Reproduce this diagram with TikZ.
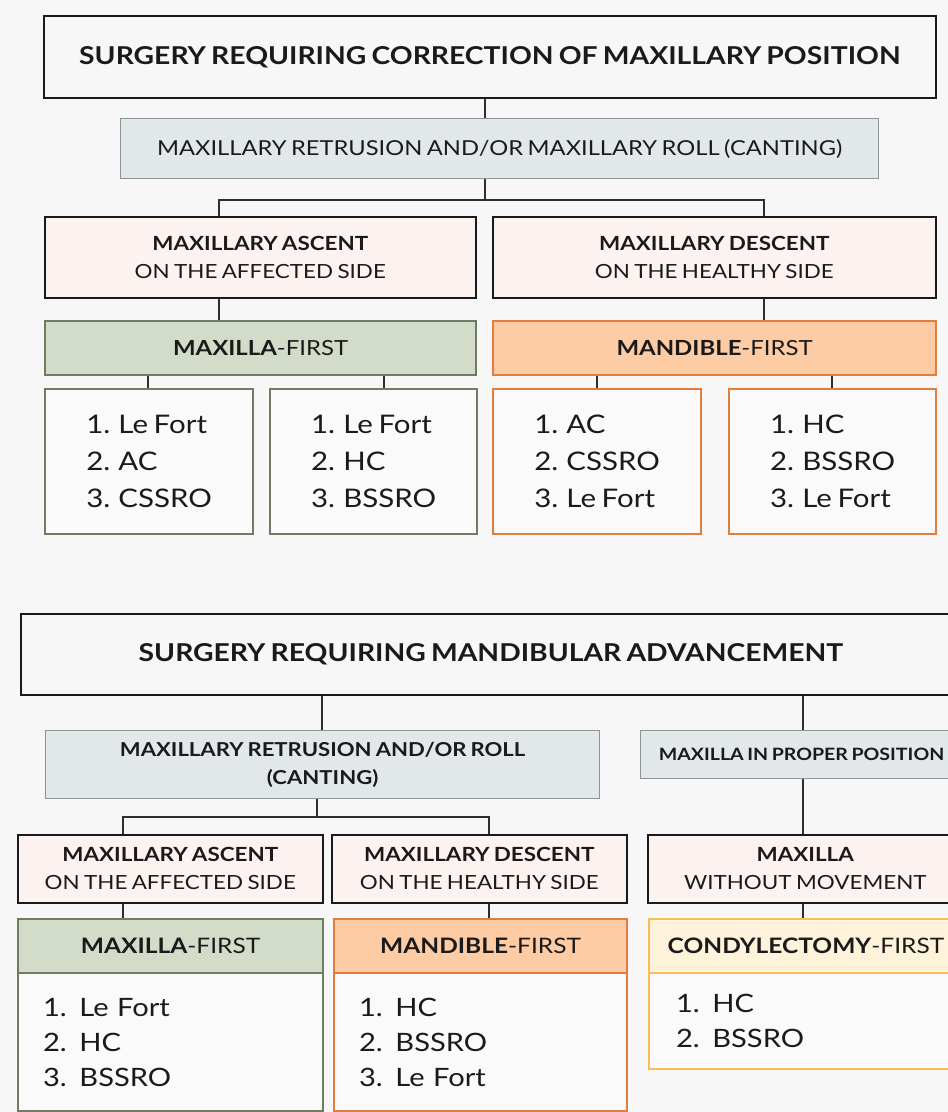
\documentclass[tikz,border=0pt]{standalone}
\usepackage{fontspec}
\setmainfont{Lato}[FakeStretch=1.15, WordSpace=0.75]
\usepackage{xcolor}
\usetikzlibrary{calc,positioning}

\definecolor{bgcol}{HTML}{F7F7F7}
\definecolor{inkcol}{HTML}{1A1A1A}
\definecolor{linecol}{HTML}{2E2E2E}
\definecolor{retfill}{HTML}{E2E8E9}
\definecolor{retdraw}{HTML}{8E9597}
\definecolor{pinkfill}{HTML}{FCF3F0}
\definecolor{greenfill}{HTML}{D3DCC8}
\definecolor{greendraw}{HTML}{6F7B63}
\definecolor{orangefill}{HTML}{FDCBA4}
\definecolor{orangedraw}{HTML}{E27D3E}
\definecolor{yellowfill}{HTML}{FFF2DA}
\definecolor{yellowdraw}{HTML}{F8BE55}
\definecolor{listfill}{HTML}{FAFAFA}

\tikzset{
  box/.style={draw, anchor=north west, inner sep=0pt, align=center, text=inkcol},
  titlebox/.style={box, fill=bgcol, draw=inkcol, line width=1.8pt,
                   font=\fontsize{24.6}{28}\selectfont\bfseries},
  retbox/.style={box, fill=retfill, draw=retdraw, line width=1.2pt},
  sidebox/.style={box, fill=pinkfill, draw=inkcol, line width=1.6pt,
                  font=\fontsize{19.5}{28}\selectfont},
  greenhead/.style={box, fill=greenfill, draw=greendraw, line width=2.2pt,
                    font=\fontsize{20.8}{24}\selectfont},
  orangehead/.style={box, fill=orangefill, draw=orangedraw, line width=2.2pt,
                     font=\fontsize{20.8}{24}\selectfont},
  yellowhead/.style={box, fill=yellowfill, draw=yellowdraw, line width=2pt,
                     font=\fontsize{21.3}{24}\selectfont},
  listbox/.style={box, fill=listfill, line width=2.2pt, align=left,
                  font=\fontsize{25.6}{37}\selectfont},
  link/.style={draw=linecol, line width=1.8pt},
}

\begin{document}
\begin{tikzpicture}[x=1pt, y=-1pt]

% ---------------------------------------------------------
% Canvas
% ---------------------------------------------------------
\useasboundingbox (0,0) rectangle (948,1112);
\clip (0,0) rectangle (948,1112);
\fill[bgcol] (0,0) rectangle (948,1112);

% ---------------------------------------------------------
% Junction points of the connectors
% ---------------------------------------------------------
\coordinate (j1)  at (485,200);     % below retrusion box (top)
\coordinate (j1L) at (219,200);     % left branch
\coordinate (j1R) at (764,200);     % right branch
\coordinate (k1)  at (148,0);       % maxilla-first, list 1
\coordinate (k2)  at (384,0);       % maxilla-first, list 2
\coordinate (k3)  at (597,0);       % mandible-first, list 1
\coordinate (k4)  at (832,0);       % mandible-first, list 2

\coordinate (j2)  at (317,817);     % below retrusion box (bottom)
\coordinate (j2L) at (123,817);     % left branch
\coordinate (j2R) at (489,817);     % right branch
\coordinate (m1)  at (322,0);       % title -> retrusion
\coordinate (m2)  at (803,0);       % title -> proper position

% ---------------------------------------------------------
% Top chart: correction of maxillary position
% ---------------------------------------------------------
\node[titlebox, minimum width=892pt, minimum height=82pt] (corr) at (43,15)
  {SURGERY REQUIRING CORRECTION OF MAXILLARY POSITION};

\node[retbox, minimum width=758pt, minimum height=60pt,
      font=\fontsize{20.6}{22}\selectfont] (retro) at (120,118)
  {MAXILLARY RETRUSION AND/OR MAXILLARY ROLL (CANTING)};

\node[sidebox, minimum width=431pt, minimum height=81pt] (asc) at (44,216)
  {\textbf{MAXILLARY ASCENT}\\ON THE AFFECTED SIDE};
\node[sidebox, minimum width=443pt, minimum height=81pt] (desc) at (492,216)
  {\textbf{MAXILLARY DESCENT}\\ON THE HEALTHY SIDE};

\node[greenhead, minimum width=431pt, minimum height=54pt] (maxfirst) at (44,320)
  {\textbf{MAXILLA}-FIRST};
\node[orangehead, minimum width=443pt, minimum height=54pt] (mandfirst) at (492,320)
  {\textbf{MANDIBLE}-FIRST};

\node[listbox, draw=greendraw, minimum width=208pt, minimum height=145pt] (lstA) at (44,388)
  {1. Le Fort\\2. AC\\3. CSSRO};
\node[listbox, draw=greendraw, minimum width=207pt, minimum height=145pt] (lstB) at (269,388)
  {1. Le Fort\\2. HC\\3. BSSRO};
\node[listbox, draw=orangedraw, minimum width=208pt, minimum height=145pt] (lstC) at (492,388)
  {1. AC\\2. CSSRO\\3. Le Fort};
\node[listbox, draw=orangedraw, minimum width=207pt, minimum height=145pt] (lstD) at (728,388)
  {1. HC\\2. BSSRO\\3. Le Fort};

% connectors
\draw[link] (corr.south -| j1) -- (retro.north -| j1);
\draw[link] (retro.south -| j1) -- (j1);
\draw[link] (asc.north -| j1L) -- (j1L) -- (j1R) -- (desc.north -| j1R);
\draw[link] (asc.south -| j1L) -- (maxfirst.north -| j1L);
\draw[link] (desc.south -| j1R) -- (mandfirst.north -| j1R);
\draw[link] (maxfirst.south -| k1) -- (lstA.north -| k1);
\draw[link] (maxfirst.south -| k2) -- (lstB.north -| k2);
\draw[link] (mandfirst.south -| k3) -- (lstC.north -| k3);
\draw[link] (mandfirst.south -| k4) -- (lstD.north -| k4);

% ---------------------------------------------------------
% Bottom chart: mandibular advancement
% ---------------------------------------------------------
\node[titlebox, minimum width=940pt, minimum height=81pt] (mand) at (20,613)
  {SURGERY REQUIRING MANDIBULAR ADVANCEMENT};

\node[retbox, minimum width=554pt, minimum height=68pt,
      font=\fontsize{19.2}{28}\selectfont\bfseries] (retro2) at (45,730)
  {MAXILLARY RETRUSION AND/OR ROLL\\(CANTING)};
\node[retbox, minimum width=322pt, minimum height=48pt,
      font=\fontsize{17}{20}\selectfont\bfseries] (proper) at (640,730)
  {MAXILLA IN PROPER POSITION};

\node[sidebox, minimum width=305pt, minimum height=68pt] (asc2) at (17,834)
  {\textbf{MAXILLARY ASCENT}\\ON THE AFFECTED SIDE};
\node[sidebox, minimum width=295pt, minimum height=68pt] (desc2) at (331,834)
  {\textbf{MAXILLARY DESCENT}\\ON THE HEALTHY SIDE};
\node[sidebox, minimum width=315pt, minimum height=68pt] (still) at (647,834)
  {\textbf{MAXILLA}\\WITHOUT MOVEMENT};

\node[listbox, draw=greendraw, text width=255pt, inner xsep=25pt,
      minimum height=138pt, font=\fontsize{25.3}{35}\selectfont] (lstE) at (17,972)
  {1. Le Fort\\2. HC\\3. BSSRO};
\node[listbox, draw=orangedraw, text width=243pt, inner xsep=25pt,
      minimum height=138pt, font=\fontsize{25.3}{35}\selectfont] (lstF) at (333,972)
  {1. HC\\2. BSSRO\\3. Le Fort};
\node[listbox, draw=yellowdraw, line width=2pt, text width=260pt, inner xsep=27pt,
      minimum height=96pt, font=\fontsize{25.3}{35}\selectfont] (lstG) at (648,972)
  {1. HC\\2. BSSRO};

\node[greenhead, minimum width=305pt, minimum height=54pt,
      font=\fontsize{21.3}{24}\selectfont] (maxfirst2) at (17,918)
  {\textbf{MAXILLA}-FIRST};
\node[orangehead, minimum width=293pt, minimum height=54pt,
      font=\fontsize{21.3}{24}\selectfont] (mandfirst2) at (333,918)
  {\textbf{MANDIBLE}-FIRST};
\node[yellowhead, minimum width=314pt, minimum height=54pt] (condfirst) at (648,918)
  {\textbf{CONDYLECTOMY}-FIRST};

% connectors
\draw[link] (mand.south -| m1) -- (retro2.north -| m1);
\draw[link] (mand.south -| m2) -- (proper.north -| m2);
\draw[link] (retro2.south -| j2) -- (j2);
\draw[link] (asc2.north -| j2L) -- (j2L) -- (j2R) -- (desc2.north -| j2R);
\draw[link] (proper.south -| m2) -- (still.north -| m2);
\draw[link] (asc2.south -| j2L) -- (maxfirst2.north -| j2L);
\draw[link] (desc2.south -| j2R) -- (mandfirst2.north -| j2R);
\draw[link] (still.south -| m2) -- (condfirst.north -| m2);

\end{tikzpicture}
\end{document}
